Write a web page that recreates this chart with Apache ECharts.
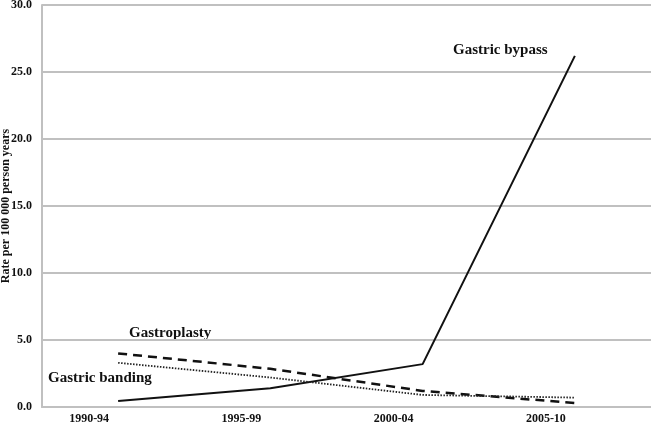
<!DOCTYPE html>
<html>
<head>
<meta charset="utf-8">
<script src="https://cdn.jsdelivr.net/npm/echarts@6/dist/echarts.min.js"></script>
<style>
html,body{margin:0;padding:0;background:#fff;}
#chart{width:651px;height:427px;}
</style>
</head>
<body>
<div id="chart"></div>
<script>
var categories = ['1990-94', '1995-99', '2000-04', '2005-10'];
var gastricBypass = [0.45, 1.4, 3.2, 26.2];
var gastroplasty = [4.0, 2.85, 1.2, 0.3];
var gastricBanding = [3.3, 2.2, 0.9, 0.7];
var yTicks = [0, 5, 10, 15, 20, 25, 30];
var yTitle = 'Rate per 100 000 person years';

var FONT = '"Liberation Serif", "Times New Roman", serif';
var chart = echarts.init(document.getElementById('chart'));
chart.setOption({
  animation: false,
  backgroundColor: '#ffffff',
  grid: { left: 42, right: 0, top: 5, bottom: 20, containLabel: false, outerBoundsMode: 'none' },
  xAxis: {
    type: 'category',
    data: categories,
    boundaryGap: true,
    axisLine: { lineStyle: { color: '#c0c0c0', width: 2 } },
    axisTick: { show: false },
    axisLabel: {
      fontFamily: FONT, fontWeight: 'bold', fontSize: 12, color: '#111',
      margin: 6, padding: [0, 58, 0, 0]
    },
    splitLine: { show: false }
  },
  yAxis: {
    type: 'value',
    min: yTicks[0],
    max: yTicks[yTicks.length - 1],
    interval: 5,
    name: yTitle,
    nameLocation: 'middle',
    nameGap: 30,
    nameMoveOverlap: false,
    nameTextStyle: { fontFamily: FONT, fontWeight: 'bold', fontSize: 12, color: '#111' },
    axisLine: { show: true, lineStyle: { color: '#c0c0c0', width: 2 } },
    axisTick: { show: false },
    axisLabel: {
      fontFamily: FONT, fontWeight: 'bold', fontSize: 12, color: '#111', margin: 10,
      formatter: function (v) { return v.toFixed(1); }
    },
    splitLine: { lineStyle: { color: '#c0c0c0', width: 2 } }
  },
  series: [
    { name: 'Gastric bypass', type: 'line', data: gastricBypass, symbol: 'none',
      lineStyle: { color: '#111', width: 2, type: 'solid' } },
    { name: 'Gastroplasty', type: 'line', data: gastroplasty, symbol: 'none',
      lineStyle: { color: '#111', width: 2.5, type: [9, 6] } },
    { name: 'Gastric banding', type: 'line', data: gastricBanding, symbol: 'none',
      lineStyle: { color: '#222', width: 1.8, type: [1.5, 1.5] } }
  ],
  graphic: [
    { type: 'text', left: 453, top: 43,
      style: { text: 'Gastric bypass', font: 'bold 15px ' + FONT, fill: '#111' } },
    { type: 'text', left: 129, top: 326,
      style: { text: 'Gastroplasty', font: 'bold 15px ' + FONT, fill: '#111' } },
    { type: 'text', left: 48, top: 371,
      style: { text: 'Gastric banding', font: 'bold 15px ' + FONT, fill: '#111' } }
  ]
});
</script>
</body>
</html>
